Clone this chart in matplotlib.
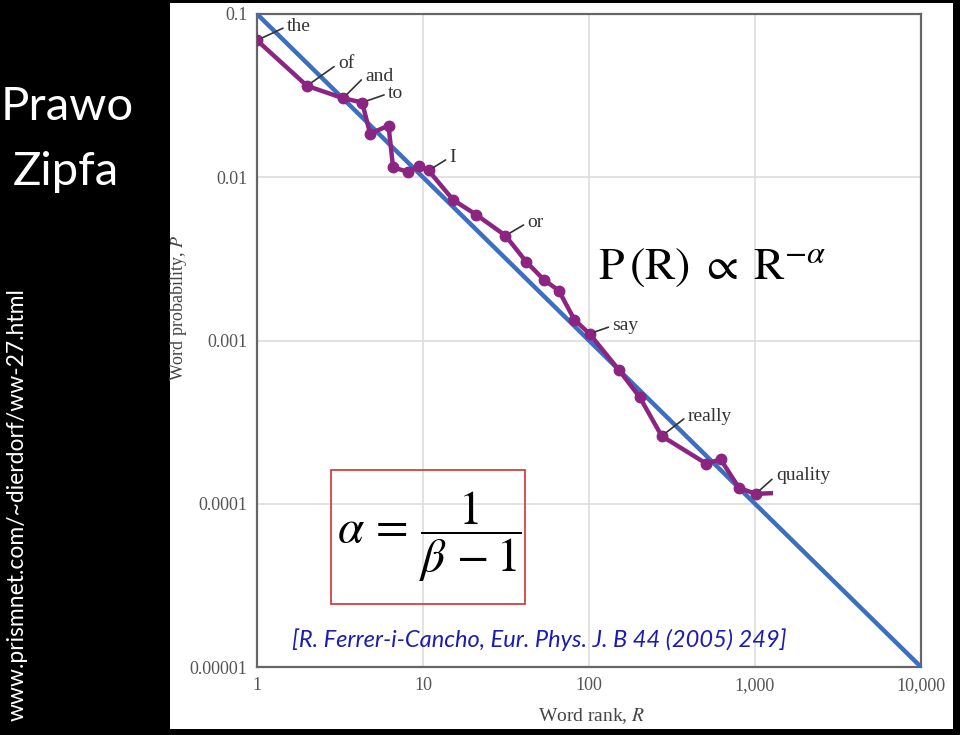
#import modules
import matplotlib
matplotlib.use("Agg")
import matplotlib.pyplot as plt
from matplotlib.patches import Rectangle
from matplotlib.ticker import FixedLocator, FixedFormatter, NullLocator

plt.rcParams['mathtext.fontset'] = 'stix'

#word frequency data
ranks = [1, 2, 3.3, 4.3, 4.8, 6.2, 6.6, 8.1, 9.4, 10.8, 15.2, 20.9, 31.4, 41.8,
         53.4, 65.8, 81.7, 100.7, 151, 202, 274, 509, 621, 801, 1011]
probs = [0.069, 0.0363, 0.0305, 0.0287, 0.0185, 0.0207, 0.0115, 0.0108, 0.0117,
         0.0110, 0.00726, 0.0059, 0.00439, 0.00304, 0.00236, 0.00202, 0.00134,
         0.0011, 0.000662, 0.00045, 0.00026, 0.000176, 0.000187, 0.000125, 0.000115]
tail_rank = [1011, 1245]
tail_prob = [0.000115, 0.000116]

#ideal zipf line
fit_rank = [1, 10000]
fit_prob = [0.1, 0.00001]

#labelled words and the index of their point
words = ["the", "of", "and", "to", "I", "or", "say", "really", "quality"]
word_idx = [0, 1, 2, 3, 9, 12, 17, 20, 24]

#axis ticks
xticks = [1, 10, 100, 1000, 10000]
xlabels = ["1", "10", "100", "1,000", "10,000"]
yticks = [0.1, 0.01, 0.001, 0.0001, 0.00001]
ylabels = ["0.1", "0.01", "0.001", "0.0001", "0.00001"]

W, H = 960, 735
fig = plt.figure(figsize=(W / 100, H / 100), dpi=100, facecolor="black")

#white panel behind the chart
fig.patches.append(Rectangle((170 / W, 1 - 729 / H), (953 - 170) / W, (729 - 3) / H,
                             transform=fig.transFigure, facecolor="white",
                             edgecolor="none", zorder=-10))

ax = fig.add_axes([257 / W, 1 - 667 / H, (921 - 257) / W, (667 - 14) / H])
ax.set_xscale("log")
ax.set_yscale("log")
ax.set_xlim(1, 10000)
ax.set_ylim(0.00001, 0.1)
ax.set_facecolor("white")

ax.xaxis.set_major_locator(FixedLocator(xticks))
ax.xaxis.set_major_formatter(FixedFormatter(xlabels))
ax.xaxis.set_minor_locator(NullLocator())
ax.yaxis.set_major_locator(FixedLocator(yticks))
ax.yaxis.set_major_formatter(FixedFormatter(ylabels))
ax.yaxis.set_minor_locator(NullLocator())
ax.tick_params(length=0, labelsize=13, labelcolor="#555555", pad=7)
for lab in ax.get_xticklabels() + ax.get_yticklabels():
    lab.set_family("Liberation Serif")

ax.grid(True, color="#dddddd", linewidth=1.2)
for s in ax.spines.values():
    s.set_color("#666666")
    s.set_linewidth(1.6)

ax.plot(fit_rank, fit_prob, color="#3d6fc1", linewidth=3.2, zorder=3)
ax.plot(tail_rank, tail_prob, color="#8b2581", linewidth=3.2, zorder=4)
ax.plot(ranks, probs, color="#8b2581", linewidth=3.2, marker="o", markersize=7.5, zorder=5)

#word labels with leader lines (offsets in pixels)
offsets = [(30, 14), (31, 22), (22, 22), (26, 9), (21, 13), (22, 13), (23, 8), (26, 20), (20, 18)]
for w, i, (dx, dy) in zip(words, word_idx, offsets):
    ax.annotate(w, xy=(ranks[i], probs[i]), xytext=(dx, dy), textcoords="offset pixels",
                ha="left", va="center", fontsize=14, family="Liberation Serif",
                color="#333333", zorder=6,
                arrowprops=dict(arrowstyle="-", color="#333333", linewidth=1.2,
                                shrinkA=1, shrinkB=4, relpos=(0, 0.5)))

ax.set_xlabel("Word rank, $R$", fontsize=14, family="Liberation Serif", color="#444444")
ax.xaxis.set_label_coords((592 - 257) / (921 - 257), -(706 - 667) / (667 - 14))
ax.set_ylabel("Word probability, $P$", fontsize=13, family="Liberation Serif", color="#444444")
ax.yaxis.set_label_coords(-(257 - 189) / (921 - 257), (667 - 308) / (667 - 14))

#formulas
fig.text(598 / W, 1 - 266 / H, r"$\mathrm{P}\,\mathrm{(R)}\;\propto\;\mathrm{R}^{-\alpha}$",
         fontsize=33, ha="left", va="center", color="black")
fig.patches.append(Rectangle((331 / W, 1 - 604 / H), (525 - 331) / W, (604 - 470) / H,
                             transform=fig.transFigure, facecolor="none",
                             edgecolor="#cc3333", linewidth=1.2, zorder=10))
fig.text(429 / W, 1 - 537 / H, r"$\alpha\,=\,\dfrac{1}{\beta\,-1}$",
         fontsize=34, ha="center", va="center", color="black", zorder=11)

fig.text(292 / W, 1 - 640 / H, "[R. Ferrer-i-Cancho, Eur. Phys. J. B 44 (2005) 249]",
         fontsize=17, style="italic", family="Lato", color="#1c1cb4",
         ha="left", va="center")

#left side title and source
fig.text(67 / W, 1 - 107 / H, "Prawo", fontsize=34, family="Lato", color="white",
         ha="center", va="center")
fig.text(66 / W, 1 - 172 / H, "Zipfa", fontsize=34, family="Lato", color="white",
         ha="center", va="center")
fig.text(17 / W, 1 - 505 / H, "www.prismnet.com/~dierdorf/ww-27.html", fontsize=16.5,
         family="Lato", color="white", rotation=90, ha="center", va="center")

plt.savefig("out.png", dpi=100, facecolor="black")
